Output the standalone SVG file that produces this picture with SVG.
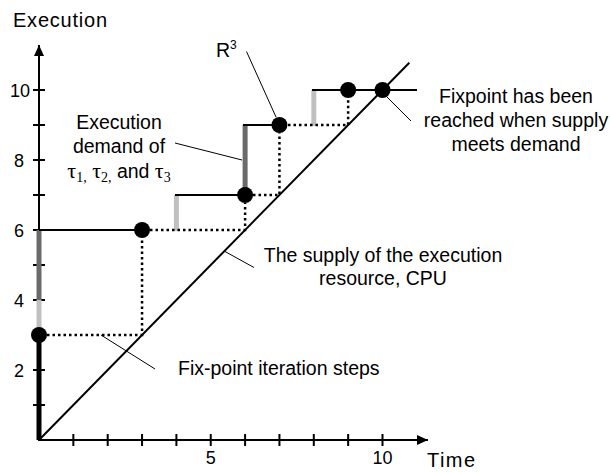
<svg xmlns="http://www.w3.org/2000/svg" width="610" height="472" viewBox="0 0 610 472">
<style>
text{font-family:"Liberation Sans",Arial,sans-serif;fill:#000}
.lbl{font-size:19.5px}
.tick{font-size:18px}
.ax{stroke:#000;stroke-width:2;fill:none}
.dem{stroke:#000;stroke-width:2;fill:none}
.dot{stroke:#000;stroke-width:2.5;stroke-dasharray:2.5 3;fill:none}
.lead{stroke:#000;stroke-width:1;fill:none}
.lg{stroke:#c0c0c0;stroke-width:5;fill:none}
.dg{stroke:#6a6a6a;stroke-width:5;fill:none}
.pt{fill:#000}
.tau{font-family:"Liberation Serif","Times New Roman",serif;font-size:22px}
.sub{font-family:"Liberation Serif","Times New Roman",serif;font-size:14px}
</style>
<defs>
<marker id="arr" markerWidth="12" markerHeight="10" refX="11" refY="5" orient="auto" markerUnits="userSpaceOnUse">
<path d="M0,0 L11,5 L0,10 z" fill="#000"/>
</marker>
</defs>
<rect width="610" height="472" fill="#fff"/>
<g id="axes">
<line class="ax" x1="39" y1="441" x2="39" y2="45" marker-end="url(#arr)"/>
<line class="ax" x1="38" y1="440" x2="428" y2="440" marker-end="url(#arr)"/>
<path class="ax" d="M33,405H45M33,370H45M33,335H45M33,300H45M33,265H45M33,230H45M33,195H45M33,160H45M33,125H45M33,90H45"/>
<path class="ax" d="M73.35,434V446M107.7,434V446M142.05,434V446M176.4,434V446M210.75,434V446M245.1,434V446M279.45,434V446M313.8,434V446M348.15,434V446M382.5,434V446"/>
<text class="tick" x="19" y="376.5" text-anchor="middle">2</text>
<text class="tick" x="19" y="306.5" text-anchor="middle">4</text>
<text class="tick" x="19" y="236.5" text-anchor="middle">6</text>
<text class="tick" x="19" y="166.5" text-anchor="middle">8</text>
<text class="tick" x="20" y="96.5" text-anchor="middle">10</text>
<text class="tick" x="210.75" y="464" text-anchor="middle">5</text>
<text class="tick" x="382.5" y="464" text-anchor="middle">10</text>
<text x="13" y="27" style="font-size:20px" textLength="94">Execution</text>
<text x="427" y="467" style="font-size:20px" textLength="48">Time</text>
</g>
<g id="supply">
<line x1="39" y1="440" x2="409.3" y2="62.7" stroke="#000" stroke-width="2"/>
</g>
<g id="demand">
<line x1="39" y1="440" x2="39" y2="335" stroke="#000" stroke-width="5"/>
<line class="lg" x1="39" y1="335" x2="39" y2="300"/>
<line class="dg" x1="39" y1="300" x2="39" y2="230"/>
<line class="dem" x1="39" y1="230" x2="142" y2="230"/>
<line class="lg" x1="176.4" y1="231" x2="176.4" y2="195"/>
<line class="dem" x1="175" y1="195" x2="245.1" y2="195"/>
<line class="dg" x1="245.1" y1="196" x2="245.1" y2="125"/>
<line class="dem" x1="243" y1="125" x2="279.5" y2="125"/>
<line class="lg" x1="313.8" y1="126" x2="313.8" y2="90"/>
<line class="dem" x1="312" y1="90" x2="417" y2="90"/>
</g>
<g id="iteration">
<path class="dot" d="M47,335H142.05V238"/>
<path class="dot" d="M150,230H245.1V203"/>
<path class="dot" d="M253,195H279.45V133"/>
<path class="dot" d="M288,125H348.15V98"/>
</g>
<g id="points">
<circle class="pt" cx="39" cy="335" r="8"/>
<circle class="pt" cx="142.05" cy="230" r="8"/>
<circle class="pt" cx="245.1" cy="195" r="8"/>
<circle class="pt" cx="279.45" cy="125" r="8"/>
<circle class="pt" cx="348.15" cy="90" r="8"/>
<circle class="pt" cx="382.5" cy="90" r="8"/>
</g>
<g id="connectors">
<line class="lead" x1="175" y1="143" x2="242" y2="160"/>
<line class="lead" x1="246.5" y1="51.5" x2="276" y2="117"/>
<line class="lead" x1="386" y1="96" x2="411" y2="121"/>
<line class="lead" x1="225" y1="251.5" x2="254" y2="267.5"/>
<line class="lead" x1="101" y1="335" x2="155" y2="369"/>
</g>
<g id="label-demand">
<text class="lbl" x="119" y="129" text-anchor="middle">Execution</text>
<text class="lbl" x="119" y="153" text-anchor="middle">demand of</text>
<text class="lbl" x="119" y="178" text-anchor="middle"><tspan class="tau">τ</tspan><tspan class="sub" dy="4">1,</tspan><tspan class="tau" dy="-4"> τ</tspan><tspan class="sub" dy="4">2,</tspan><tspan dy="-4"> and </tspan><tspan class="tau">τ</tspan><tspan class="sub" dy="4">3</tspan></text>
</g>
<g id="label-r3">
<text class="lbl" x="216" y="57">R<tspan font-size="12" dy="-8">3</tspan></text>
</g>
<g id="label-fixpoint">
<text class="lbl" x="516" y="103" text-anchor="middle">Fixpoint has been</text>
<text class="lbl" x="516" y="127" text-anchor="middle">reached when supply</text>
<text class="lbl" x="516" y="151" text-anchor="middle">meets demand</text>
</g>
<g id="label-supply">
<text class="lbl" x="383" y="262" text-anchor="middle">The supply of the execution</text>
<text class="lbl" x="383" y="285" text-anchor="middle">resource, CPU</text>
</g>
<g id="label-steps">
<text class="lbl" x="178" y="375">Fix-point iteration steps</text>
</g>
</svg>
